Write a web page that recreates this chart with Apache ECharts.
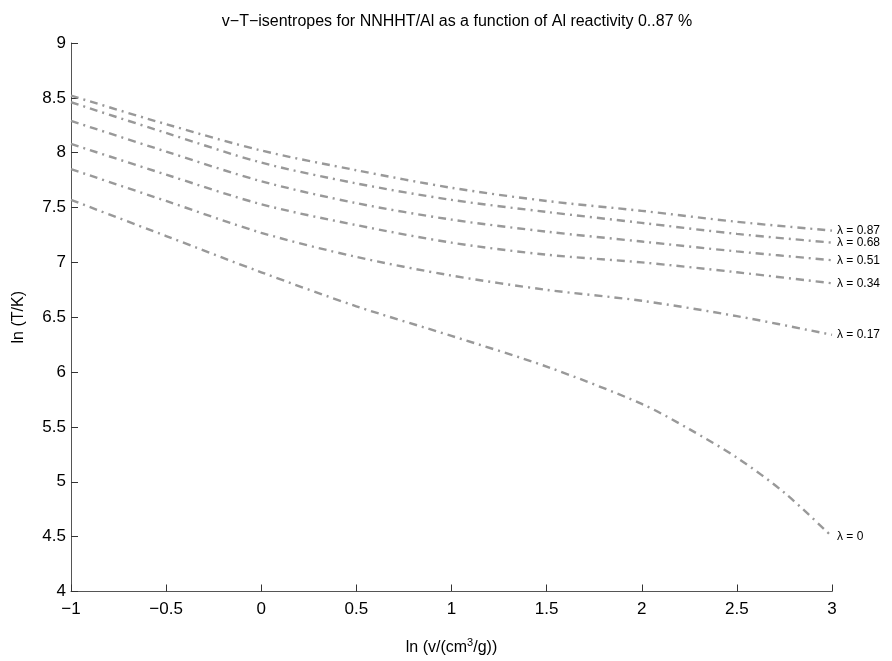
<!DOCTYPE html>
<html>
<head>
<meta charset="utf-8">
<script src="https://cdn.jsdelivr.net/npm/echarts@6/dist/echarts.min.js"></script>
<style>html,body{margin:0;padding:0;background:#fff}#c{width:892px;height:661px}</style>
</head>
<body>
<div id="c"></div>
<script>
var xValues = [-1, -0.5, 0, 0.5, 1, 1.5, 2, 2.5, 3];
var lam087 = [8.52, 8.26, 8.02, 7.84, 7.68, 7.56, 7.47, 7.37, 7.29];
var lam068 = [8.46, 8.18, 7.91, 7.72, 7.57, 7.46, 7.36, 7.26, 7.18];
var lam051 = [8.29, 8.01, 7.74, 7.54, 7.39, 7.28, 7.19, 7.10, 7.02];
var lam034 = [8.08, 7.80, 7.53, 7.34, 7.18, 7.07, 7.00, 6.91, 6.81];
var lam017 = [7.85, 7.56, 7.27, 7.05, 6.88, 6.75, 6.65, 6.51, 6.34];
var lam0x  = [-1, -0.5, 0, 0.5, 1, 1.5, 2, 2.25, 2.5, 2.75, 3];
var lam0   = [7.57, 7.24, 6.91, 6.60, 6.33, 6.05, 5.71, 5.48, 5.22, 4.90, 4.50];
var seriesNames = ['λ = 0.87', 'λ = 0.68', 'λ = 0.51', 'λ = 0.34', 'λ = 0.17', 'λ = 0'];
var xTicks = [-1, -0.5, 0, 0.5, 1, 1.5, 2, 2.5, 3];
var yTicks = [4, 4.5, 5, 5.5, 6, 6.5, 7, 7.5, 8, 8.5, 9];

function pairs(xs, ys) { return xs.map(function (x, i) { return [x, ys[i]]; }); }
var allData = [
  pairs(xValues, lam087), pairs(xValues, lam068), pairs(xValues, lam051),
  pairs(xValues, lam034), pairs(xValues, lam017), pairs(lam0x, lam0)
];
var font = '"Liberation Sans", Arial, Helvetica, sans-serif';
function fmt(v) { return String(v).replace('-', '\u2212'); }

var series = allData.map(function (d, i) {
  return {
    name: seriesNames[i],
    type: 'line',
    data: d,
    smooth: 0.3,
    showSymbol: false,
    symbol: 'none',
    lineStyle: { color: '#999999', width: 2.4, type: [8, 5, 2, 5] },
    endLabel: {
      show: true,
      formatter: seriesNames[i],
      color: '#000',
      fontSize: 12,
      fontFamily: font,
      distance: 5
    },
    emphasis: { disabled: true },
    animation: false
  };
});

var chart = echarts.init(document.getElementById('c'), null, { renderer: 'canvas' });
chart.setOption({
  animation: false,
  backgroundColor: '#fff',
  title: {
    text: 'v\u2212T\u2212isentropes for NNHHT/Al as a function of Al reactivity 0..87 %',
    left: 452, top: 9, textAlign: 'center',
    textStyle: { fontFamily: font, fontSize: 16, fontWeight: 'normal', color: '#000' }
  },
  grid: { left: 71, right: 60, top: 43, bottom: 62, containLabel: false },
  xAxis: {
    type: 'value', min: -1, max: 3, interval: 0.5,
    name: 'ln (v/(cm{sup|3}/g))',
    nameLocation: 'middle', nameGap: 46,
    nameTextStyle: {
      fontFamily: font, fontSize: 16, color: '#000',
      rich: { sup: { fontSize: 11, verticalAlign: 'top', padding: [0, 0, 10, 0], fontFamily: font, color: '#000' } }
    },
    axisLine: { show: true, onZero: false, lineStyle: { color: '#555', width: 1 } },
    axisTick: { show: true, inside: true, length: 7, lineStyle: { color: '#333' } },
    axisLabel: { formatter: function (v) { return xTicks.indexOf(v) >= 0 ? fmt(v) : ''; }, fontFamily: font, fontSize: 17, color: '#000', margin: 9 },
    splitLine: { show: false }
  },
  yAxis: {
    type: 'value', min: 4, max: 9, interval: 0.5,
    name: 'ln (T/K)', nameLocation: 'middle', nameGap: 44, nameRotate: 90,
    nameTextStyle: { fontFamily: font, fontSize: 16, color: '#000' },
    axisLine: { show: true, onZero: false, lineStyle: { color: '#555', width: 1 } },
    axisTick: { show: true, inside: true, length: 7, lineStyle: { color: '#333' } },
    axisLabel: { formatter: function (v) { return yTicks.indexOf(v) >= 0 ? fmt(v) : ''; }, fontFamily: font, fontSize: 17, color: '#000', margin: 5 },
    splitLine: { show: false }
  },
  series: series
});
</script>
</body>
</html>
